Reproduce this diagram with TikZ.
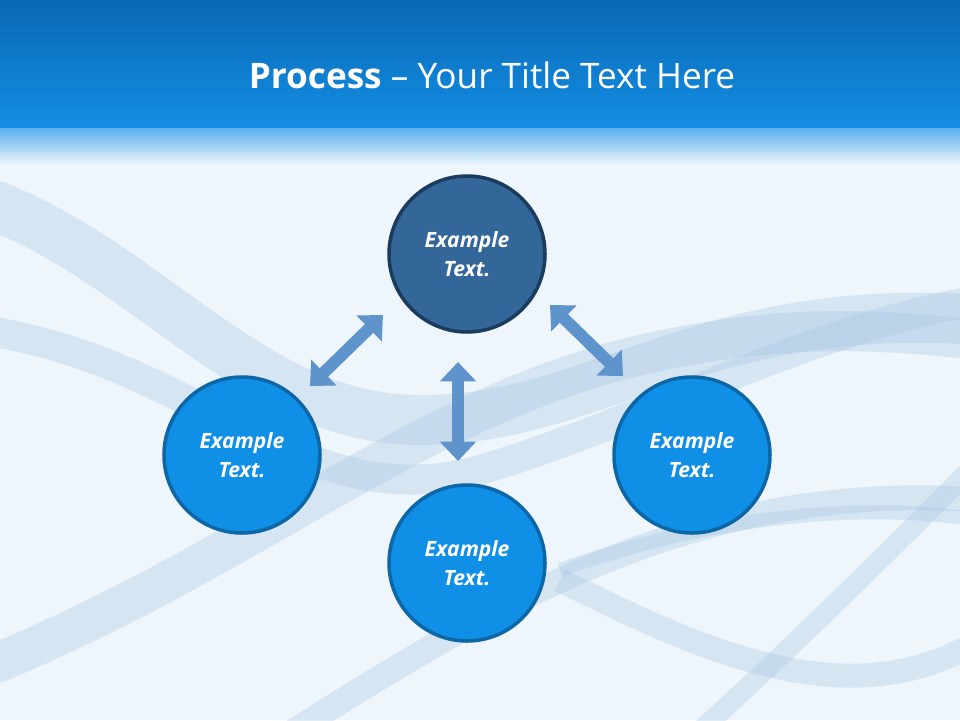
\documentclass[tikz,border=0pt]{standalone}
\usepackage{fontspec}
\setmainfont{Open Sans}
\usetikzlibrary{arrows.meta}
\definecolor{bg}{HTML}{EEF6FC}
\definecolor{barTop}{HTML}{0A68B4}
\definecolor{barBot}{HTML}{138EE4}
\definecolor{wave}{HTML}{A9C6E2}
\definecolor{topC}{HTML}{336699}
\definecolor{topB}{HTML}{1C3C5E}
\definecolor{cirC}{HTML}{0F8FE6}
\definecolor{cirB}{HTML}{0D66A6}
\definecolor{arr}{HTML}{5E93CB}
\newlength\pxu \setlength\pxu{0.02cm}
\tikzset{
 circ/.style={circle,minimum size=156\pxu,line width=2pt,fill=cirC,draw=cirB,text=white,font=\bfseries\itshape\fontsize{12}{16.5}\selectfont,align=center},
 dbl/.style={line width=12\pxu,draw=arr,{Triangle[length=11pt,width=20pt]}-{Triangle[length=11pt,width=20pt]}},
 wv/.style={draw=wave,line cap=butt}
}
\begin{document}
\begin{tikzpicture}[x=0.02cm,y=-0.02cm]
\useasboundingbox (0,0) rectangle (960,720);
\fill[bg] (0,0) rectangle (960,720);
% waves
\begin{scope}[opacity=0.35]
\draw[wv,line width=50\pxu] (-20,200) .. controls (150,260) and (250,420) .. (420,420) .. controls (600,420) and (700,300) .. (980,320);
\draw[wv,line width=30\pxu] (-20,330) .. controls (200,360) and (300,520) .. (480,470) .. controls (650,420) and (800,330) .. (980,300);
\draw[wv,line width=40\pxu] (-20,670) .. controls (250,560) and (400,420) .. (620,360) .. controls (780,320) and (880,330) .. (980,340);
\draw[wv,line width=25\pxu] (280,740) .. controls (500,600) and (700,480) .. (980,500);
\draw[wv,line width=14\pxu] (560,570) .. controls (700,520) and (850,500) .. (980,520);
\draw[wv,line width=24\pxu] (560,580) .. controls (700,650) and (850,720) .. (980,640);
\draw[wv,line width=20\pxu] (690,740) .. controls (800,640) and (880,560) .. (980,460);
\end{scope}
% title bar
\shade[top color=barTop,bottom color=barBot] (0,0) rectangle (960,128);
\shade[top color=barBot!70!white,bottom color=bg] (0,128) rectangle (960,165);
\node[text=white,font=\fontsize{20}{24}\selectfont] (title) at (492,75) {\textbf{Process} – Your Title Text Here};
% circles
\node[circ,fill=topC,draw=topB] (c1) at (467,254) {Example\\Text.};
\node[circ] (c2) at (242,455) {Example\\Text.};
\node[circ] (c3) at (692,455) {Example\\Text.};
\node[circ] (c4) at (467,563) {Example\\Text.};
% arrows
\coordinate (a1) at (310,386); \coordinate (a2) at (383,315);
\coordinate (b1) at (458,362); \coordinate (b2) at (458,461);
\coordinate (d1) at (550,305); \coordinate (d2) at (623,376);
\draw[dbl] (a1) -- (a2);
\draw[dbl] (b1) -- (b2);
\draw[dbl] (d1) -- (d2);
\end{tikzpicture}
\end{document}
